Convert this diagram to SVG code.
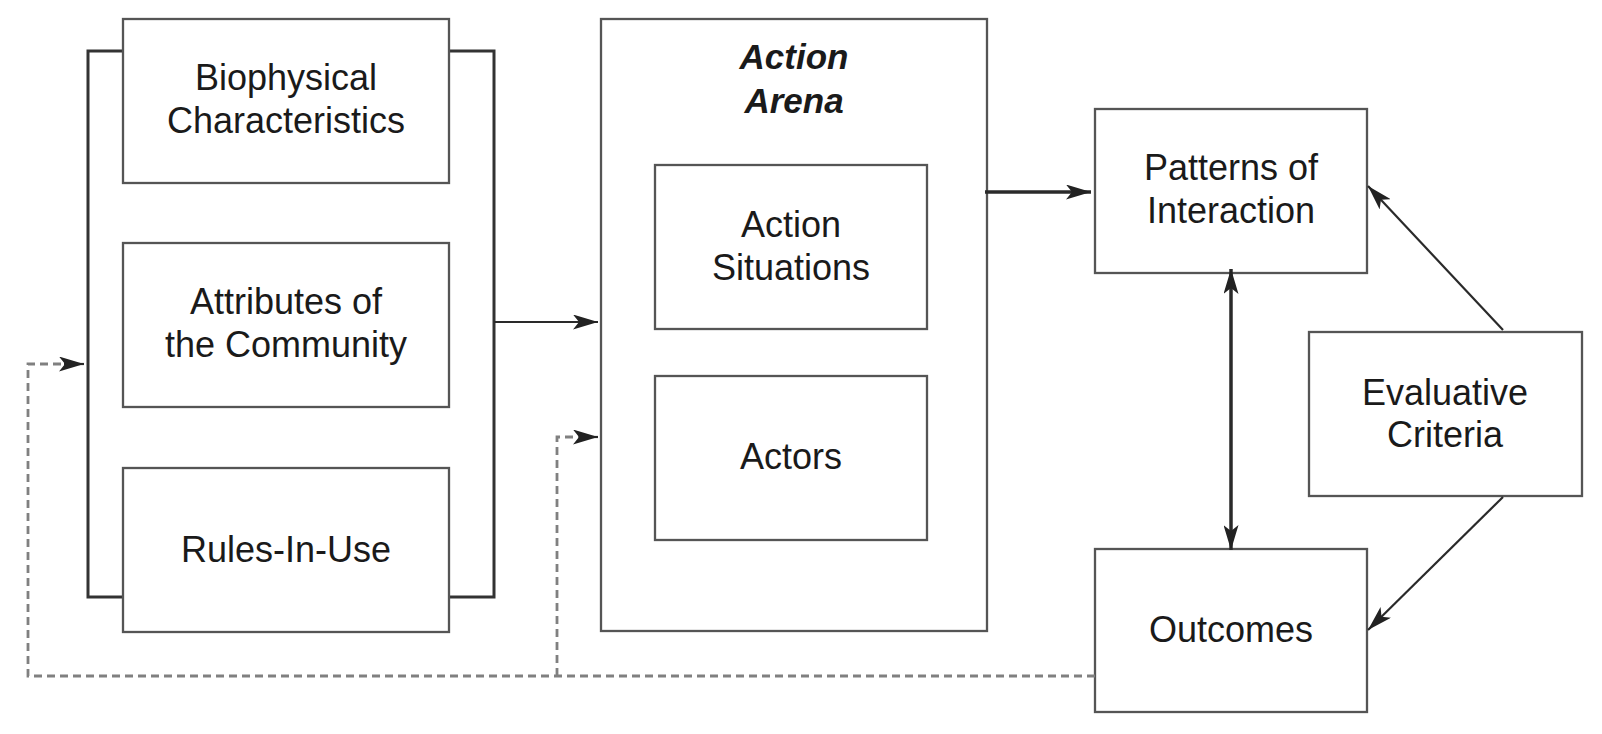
<svg xmlns="http://www.w3.org/2000/svg" width="1602" height="734" viewBox="0 0 1602 734">
<style>
.box{fill:#fff;stroke:#555;stroke-width:2.3}
.br{fill:none;stroke:#333;stroke-width:3}
.t{font-family:"Liberation Sans",Arial,sans-serif;font-size:36px;fill:#1a1a1a;text-anchor:middle}
.bi{font-weight:bold;font-style:italic;font-size:35px}
.c{fill:none;stroke:#2a2a2a;stroke-width:2.2}
.c3{fill:none;stroke:#2a2a2a;stroke-width:3.5}
.d{fill:none;stroke:#808080;stroke-width:2.8;stroke-dasharray:8 5}
</style>
<defs>
<marker id="ah" viewBox="0 0 25 15" refX="25" refY="7.5" markerWidth="25" markerHeight="15" orient="auto-start-reverse" markerUnits="userSpaceOnUse">
<path d="M0,0 L25,7.5 L0,15 L6,7.5 Z" fill="#222"/>
</marker>
</defs>
<rect width="1602" height="734" fill="#fff"/>
<g id="context-bracket">
<rect class="br" x="88" y="51" width="406" height="546"/>
</g>
<g id="biophysical">
<rect class="box" x="123" y="19" width="326" height="164"/>
<text class="t" x="286" y="90">Biophysical</text>
<text class="t" x="286" y="133">Characteristics</text>
</g>
<g id="attributes">
<rect class="box" x="123" y="243" width="326" height="164"/>
<text class="t" x="286" y="314">Attributes of</text>
<text class="t" x="286" y="357">the Community</text>
</g>
<g id="rules">
<rect class="box" x="123" y="468" width="326" height="164"/>
<text class="t" x="286" y="562">Rules-In-Use</text>
</g>
<g id="action-arena">
<rect class="box" x="601" y="19" width="386" height="612"/>
<text class="t bi" x="794" y="69">Action</text>
<text class="t bi" x="794" y="113">Arena</text>
</g>
<g id="action-situations">
<rect class="box" x="655" y="165" width="272" height="164"/>
<text class="t" x="791" y="237">Action</text>
<text class="t" x="791" y="280">Situations</text>
</g>
<g id="actors">
<rect class="box" x="655" y="376" width="272" height="164"/>
<text class="t" x="791" y="469">Actors</text>
</g>
<g id="patterns">
<rect class="box" x="1095" y="109" width="272" height="164"/>
<text class="t" x="1231" y="180">Patterns of</text>
<text class="t" x="1231" y="223">Interaction</text>
</g>
<g id="evaluative">
<rect class="box" x="1309" y="332" width="273" height="164"/>
<text class="t" x="1445" y="405">Evaluative</text>
<text class="t" x="1445" y="447">Criteria</text>
</g>
<g id="outcomes">
<rect class="box" x="1095" y="549" width="272" height="163"/>
<text class="t" x="1231" y="642">Outcomes</text>
</g>
<g id="connectors">
<line class="c" x1="494" y1="322" x2="598" y2="322" marker-end="url(#ah)"/>
<line class="c3" x1="985" y1="192" x2="1091" y2="192" marker-end="url(#ah)"/>
<line class="c3" x1="1231" y1="269" x2="1231" y2="550" marker-start="url(#ah)" marker-end="url(#ah)"/>
<line class="c" x1="1503" y1="330" x2="1368" y2="186" marker-end="url(#ah)"/>
<line class="c" x1="1503" y1="497" x2="1368" y2="630" marker-end="url(#ah)"/>
<path class="d" d="M1095,676 H28 V364 H66"/>
<line class="c" x1="64" y1="364" x2="84" y2="364" marker-end="url(#ah)"/>
<path class="d" d="M557,676 V437 H581"/>
<line class="c" x1="579" y1="437" x2="598" y2="437" marker-end="url(#ah)"/>
</g>
</svg>
